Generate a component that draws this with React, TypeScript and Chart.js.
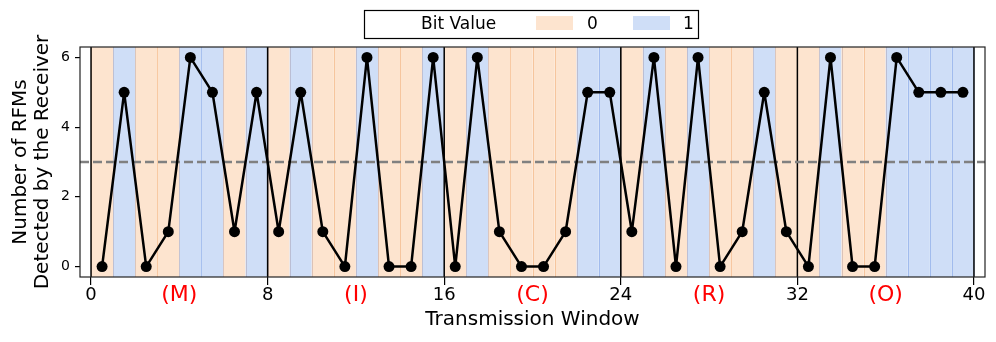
import React, { useEffect, useRef } from 'react';
import { Chart, registerables } from 'chart.js';

Chart.register(...registerables);

// Number of RFMs detected in each transmission window (window i spans [i, i+1])
const rfmCounts = [
  0, 5, 0, 1, 6, 5, 1, 5,
  1, 5, 1, 0, 6, 0, 0, 6,
  0, 6, 1, 0, 0, 1, 5, 5,
  1, 6, 0, 6, 0, 1, 5, 1,
  0, 6, 0, 0, 6, 5, 5, 5,
];
// Transmitted bit per window
const bitValues = [
  0, 1, 0, 0, 1, 1, 0, 1,
  0, 1, 0, 0, 1, 0, 0, 1,
  0, 1, 0, 0, 0, 0, 1, 1,
  0, 1, 0, 1, 0, 0, 1, 0,
  0, 1, 0, 0, 1, 1, 1, 1,
];
const letterLabels = ['(M)', '(I)', '(C)', '(R)', '(O)'];
const letterCenters = [4, 12, 20, 28, 36];
const byteBoundaries = [0, 8, 16, 24, 32, 40];
const xTicks = [0, 8, 16, 24, 32, 40];
const yTicks = [0, 2, 4, 6];
const threshold = 3;

const FONT = 'DejaVu Sans';
const ORANGE = '#FDE4CF';
const ORANGE_EDGE = 'rgba(240,165,105,0.28)';
const BLUE = '#CFDEF7';
const BLUE_EDGE = 'rgba(110,150,225,0.28)';

const overlayPlugin = {
  id: 'overlay',
  beforeDatasetsDraw(chart: any) {
    const { ctx, chartArea: a, scales } = chart;
    const x = scales.x;
    const y = scales.y;
    ctx.save();
    // bit bands
    bitValues.forEach((b, i) => {
      const x0 = x.getPixelForValue(i);
      const x1 = x.getPixelForValue(i + 1);
      ctx.fillStyle = b ? BLUE : ORANGE;
      ctx.fillRect(x0, a.top, x1 - x0, a.bottom - a.top);
    });
    bitValues.forEach((b, i) => {
      const x0 = x.getPixelForValue(i);
      const x1 = x.getPixelForValue(i + 1);
      ctx.strokeStyle = b ? BLUE_EDGE : ORANGE_EDGE;
      ctx.lineWidth = 1;
      ctx.beginPath();
      ctx.moveTo(Math.round(x0) + 0.5, a.top);
      ctx.lineTo(Math.round(x0) + 0.5, a.bottom);
      ctx.moveTo(Math.round(x1) + 0.5, a.top);
      ctx.lineTo(Math.round(x1) + 0.5, a.bottom);
      ctx.stroke();
    });
    // byte boundaries
    ctx.strokeStyle = '#000';
    ctx.lineWidth = 1.5;
    byteBoundaries.forEach((v) => {
      const px = x.getPixelForValue(v);
      ctx.beginPath();
      ctx.moveTo(px, a.top);
      ctx.lineTo(px, a.bottom);
      ctx.stroke();
    });
    // threshold
    const py = y.getPixelForValue(threshold);
    ctx.strokeStyle = '#808080';
    ctx.lineWidth = 2.6;
    ctx.setLineDash([9, 4]);
    ctx.beginPath();
    ctx.moveTo(a.left, py);
    ctx.lineTo(a.right, py);
    ctx.stroke();
    ctx.restore();
  },
  afterDraw(chart: any) {
    const { ctx, chartArea: a, scales } = chart;
    const x = scales.x;
    ctx.save();
    // frame
    ctx.strokeStyle = '#222';
    ctx.lineWidth = 1.2;
    ctx.strokeRect(a.left, a.top, a.right - a.left, a.bottom - a.top);
    // letters
    ctx.fillStyle = '#FF0000';
    ctx.font = `22px "${FONT}"`;
    ctx.textAlign = 'center';
    ctx.textBaseline = 'middle';
    letterLabels.forEach((t, i) => {
      ctx.fillText(t, x.getPixelForValue(letterCenters[i]), 295);
    });
    // legend
    ctx.fillStyle = '#fff';
    ctx.fillRect(364, 10, 334, 28);
    ctx.strokeStyle = '#000';
    ctx.lineWidth = 1.2;
    ctx.strokeRect(364.5, 10.5, 334, 28);
    ctx.fillStyle = '#000';
    ctx.font = `17px "${FONT}"`;
    ctx.textAlign = 'left';
    ctx.textBaseline = 'middle';
    ctx.fillText('Bit Value', 421, 25);
    ctx.fillStyle = ORANGE;
    ctx.fillRect(536, 16, 37, 14);
    ctx.fillStyle = '#000';
    ctx.fillText('0', 587, 25);
    ctx.fillStyle = BLUE;
    ctx.fillRect(633, 16, 37, 14);
    ctx.fillStyle = '#000';
    ctx.fillText('1', 683, 25);
    ctx.restore();
  },
};

export default function App() {
  const ref = useRef<HTMLCanvasElement>(null);
  useEffect(() => {
    if (!ref.current) return;
    const chart = new Chart(ref.current, {
      type: 'line',
      data: {
        datasets: [
          {
            label: 'RFMs',
            data: rfmCounts.map((v, i) => ({ x: i + 0.5, y: v })),
            borderColor: '#000',
            backgroundColor: '#000',
            borderWidth: 2.5,
            borderJoinStyle: 'round',
            borderCapStyle: 'round',
            pointRadius: 5.5,
            pointHoverRadius: 5.5,
            pointBorderWidth: 0,
            tension: 0,
          },
        ],
      },
      options: {
        animation: false,
        responsive: true,
        maintainAspectRatio: false,
        layout: { padding: { top: 47, right: 11, left: 0, bottom: 0 } },
        plugins: { legend: { display: false }, tooltip: { enabled: false } },
        scales: {
          x: {
            type: 'linear',
            min: -0.5,
            max: 40.5,
            afterBuildTicks: (s: any) => {
              s.ticks = xTicks.map((v) => ({ value: v }));
            },
            afterFit: (s: any) => {
              s.height = 65;
            },
            grid: { display: true, drawOnChartArea: false, drawTicks: true, tickLength: 8, color: '#000', lineWidth: 1.2 },
            border: { display: false },
            ticks: { color: '#000', font: { family: FONT, size: 18, lineHeight: 1.2 }, padding: 0, maxRotation: 0, autoSkip: false },
            title: {
              display: true,
              text: 'Transmission Window',
              color: '#000',
              font: { family: FONT, size: 20, lineHeight: 1.1 },
              padding: { top: 0, bottom: 11 },
            },
          },
          y: {
            type: 'linear',
            min: -0.3,
            max: 6.3,
            afterBuildTicks: (s: any) => {
              s.ticks = yTicks.map((v) => ({ value: v }));
            },
            afterFit: (s: any) => {
              s.width = 80;
            },
            grid: { display: true, drawOnChartArea: false, drawTicks: true, tickLength: 5, color: '#000', lineWidth: 1.2 },
            border: { display: false },
            ticks: { color: '#000', font: { family: FONT, size: 14 }, padding: 5 },
            title: {
              display: true,
              text: ['Number of RFMs', 'Detected by the Receiver'],
              color: '#000',
              font: { family: FONT, size: 20, lineHeight: 1.1 },
              padding: { top: 10, bottom: 0 },
            },
          },
        },
      },
      plugins: [overlayPlugin],
    });
    return () => chart.destroy();
  }, []);
  return (
    <div style={{ position: 'fixed', left: 0, top: 0, width: 996, height: 342, background: '#fff' }}>
      <canvas ref={ref} />
    </div>
  );
}
